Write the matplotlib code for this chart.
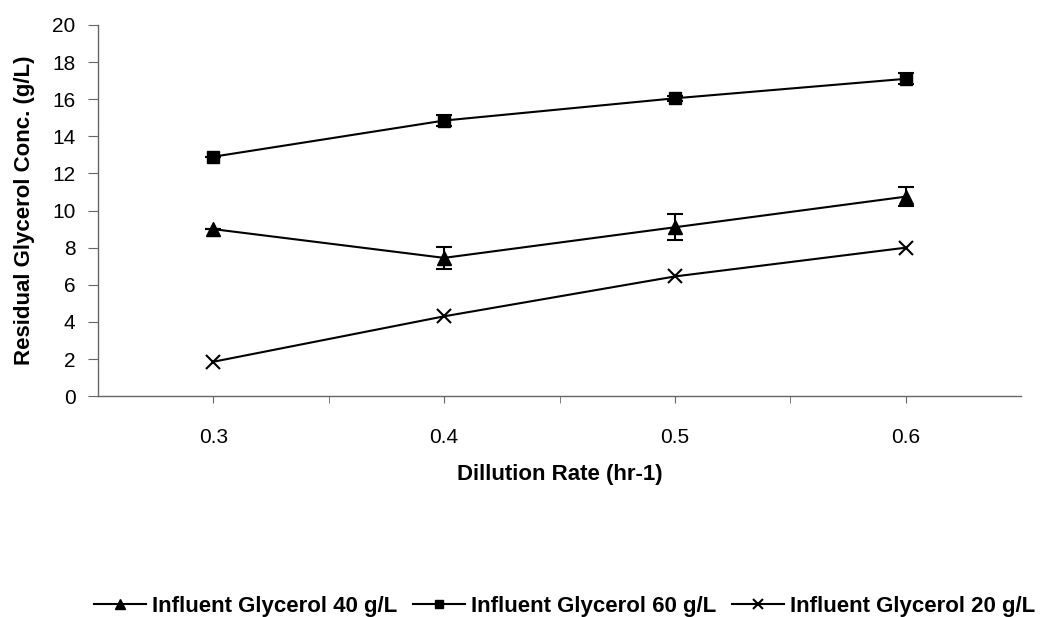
import matplotlib
matplotlib.use("Agg")
import matplotlib.pyplot as plt
from matplotlib.ticker import FixedLocator, NullFormatter

plt.rcParams["font.family"] = ["Liberation Sans", "DejaVu Sans"]

dilution_rate = [0.3, 0.4, 0.5, 0.6]
tick_labels = ["0.3", "0.4", "0.5", "0.6"]

glycerol_40 = [9.0, 7.45, 9.1, 10.75]
glycerol_40_err = [0.0, 0.6, 0.7, 0.5]
glycerol_60 = [12.9, 14.85, 16.05, 17.1]
glycerol_60_err = [0.0, 0.3, 0.15, 0.3]
glycerol_20 = [1.85, 4.3, 6.45, 8.0]

fig = plt.figure(figsize=(10.4, 6.17), dpi=100)
ax = fig.add_axes([0.094, 0.358, 0.888, 0.6015])

# error bars drawn on their own so the legend shows plain line + marker
bar_style = dict(fmt="none", ecolor="black", elinewidth=1.5, capsize=5.5, capthick=1.5)
ax.errorbar(dilution_rate, glycerol_40, yerr=glycerol_40_err, **bar_style)
ax.errorbar(dilution_rate, glycerol_60, yerr=glycerol_60_err, **bar_style)

line_style = dict(color="black", linewidth=1.5)
ax.plot(dilution_rate, glycerol_40, marker="^", markersize=10,
        label="Influent Glycerol 40 g/L", **line_style)
ax.plot(dilution_rate, glycerol_60, marker="s", markersize=8.5,
        label="Influent Glycerol 60 g/L", **line_style)
ax.plot(dilution_rate, glycerol_20, marker="x", markersize=10, markeredgewidth=1.5,
        label="Influent Glycerol 20 g/L", **line_style)

ax.set_xlim(0.25, 0.65)
ax.set_ylim(0, 20)
ax.set_yticks(range(0, 21, 2))
ax.set_xticks(dilution_rate)
ax.set_xticklabels(tick_labels)
ax.xaxis.set_minor_locator(FixedLocator([0.35, 0.45, 0.55]))
ax.xaxis.set_minor_formatter(NullFormatter())

for side in ["top", "right"]:
    ax.spines[side].set_visible(False)
for side in ["left", "bottom"]:
    ax.spines[side].set_color("#666666")
    ax.spines[side].set_linewidth(1.0)

ax.tick_params(axis="y", which="both", direction="out", length=7, colors="#666666",
               labelcolor="black", labelsize=15, pad=9)
ax.tick_params(axis="x", which="both", direction="out", length=5, colors="#666666",
               labelcolor="black", labelsize=15, pad=18)

ax.set_xlabel("Dillution Rate (hr-1)", fontsize=16, fontweight="bold", labelpad=12)
ax.set_ylabel("Residual Glycerol Conc. (g/L)", fontsize=16, fontweight="bold", labelpad=12)

fig.legend(loc="center", bbox_to_anchor=(0.543, 0.017), ncol=3, frameon=False,
           prop={"weight": "bold", "size": 16}, handlelength=2.35, markerscale=0.75,
           handletextpad=0.27, columnspacing=0.7)

fig.savefig("out.png", dpi=100)
